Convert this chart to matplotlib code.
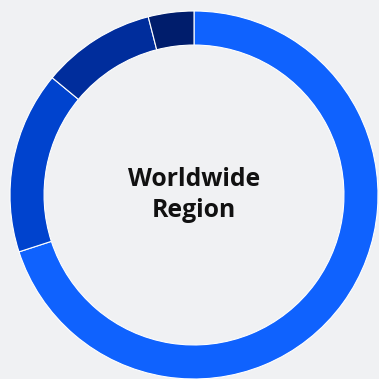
import matplotlib.pyplot as plt

# share of total by region
regions = ["Americas", "EMEA", "Asia Pacific", "Japan"]
shares = [70, 16, 10, 4]
colors = ["#0f62fe", "#0043ce", "#002d9c", "#001d6c"]

bg = "#f0f1f3"

fig = plt.figure(figsize=(3.79, 3.79), dpi=100, facecolor=bg)
ax = fig.add_axes([10 / 379, 0 / 379, 368 / 379, 368 / 379])
ax.set_facecolor(bg)

ax.pie(shares, colors=colors, startangle=90, counterclock=False,
       radius=1.0,
       wedgeprops=dict(width=0.185, edgecolor="white", linewidth=0.8))
ax.set_xlim(-1, 1)
ax.set_ylim(-1, 1)
ax.set_aspect("equal")
ax.axis("off")

ax.text(0, 0.0, "Worldwide\nRegion", ha="center", va="center",
        fontsize=17.8, fontweight="bold", family="Open Sans",
        linespacing=1.32, color="#111111")

fig.savefig("out.png", dpi=100, facecolor=bg)
